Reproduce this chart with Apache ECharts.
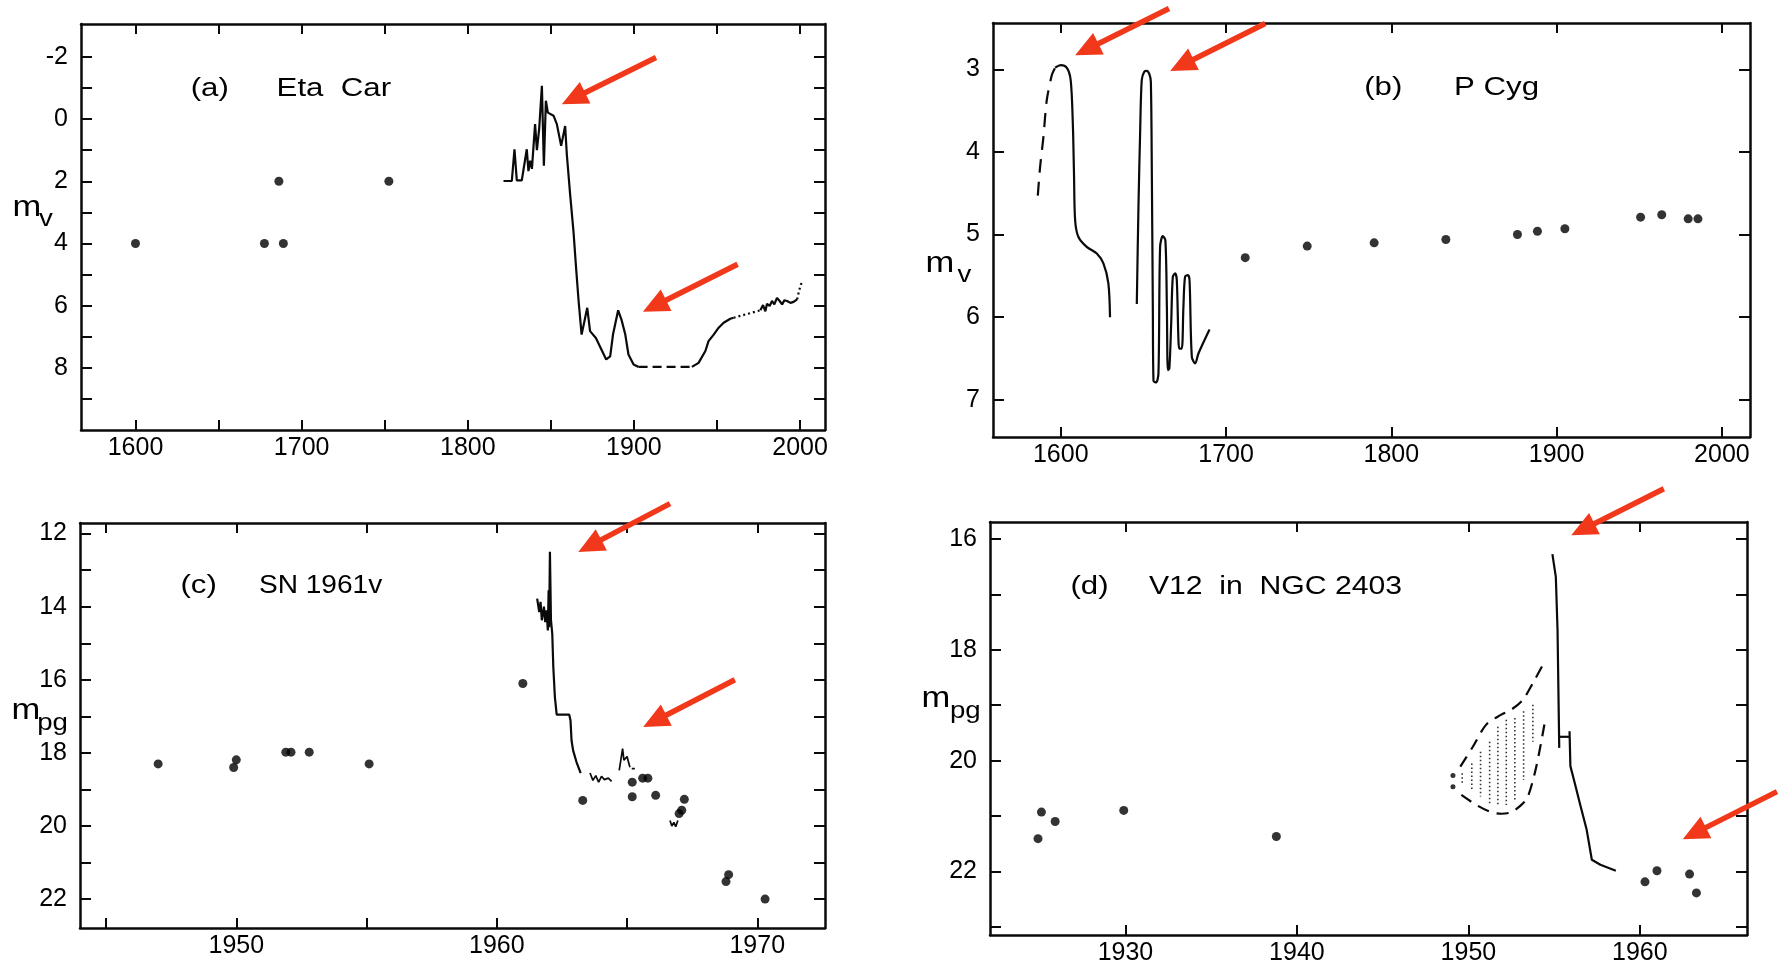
<!DOCTYPE html>
<html>
<head>
<meta charset="utf-8">
<script src="https://cdn.jsdelivr.net/npm/echarts@6/dist/echarts.min.js"></script>
<style>html,body{margin:0;padding:0;background:#fff;}#c{width:1789px;height:966px;}</style>
</head>
<body>
<div id="c"></div>
<script>
// ---------- Panel (a) Eta Car ----------
const A_dots = [[1600,4],[1677.6,4],[1686.3,2],[1689,4],[1752.5,2]];
const A_solid1 = [[1821.5,1.99],[1826.5,1.99],[1828.1,0.97],[1829.5,1.97],[1832.5,1.97],[1835.5,0.97],[1836.5,1.67],[1837.5,1.34],[1838.6,1.6],[1840.5,0.16],[1841.6,1.0],[1843.0,0.3],[1844.6,-1.07],[1845.8,1.5],[1847.0,-0.59],[1848.2,-0.21],[1851.6,-0.11],[1853.6,0.16],[1856.2,0.86],[1858.6,0.22],[1859.6,1.13],[1861.6,2.42],[1863.6,3.6],[1865.2,4.8],[1866.7,5.85],[1868.5,6.93],[1870.2,6.5],[1871.9,6.07],[1873.6,6.82],[1877.1,7.04],[1883.3,7.73],[1885.7,7.63],[1887.4,6.93],[1890.5,6.15],[1892.5,6.45],[1894.8,6.93],[1896.7,7.57],[1899.8,7.89],[1902.8,7.97]];
const A_dash = [[1902.8,7.97],[1934.9,7.97]];
const A_solid2 = [[1934.9,7.97],[1938.9,7.84],[1943,7.46],[1944.9,7.14],[1948,6.93],[1951,6.71],[1954,6.55],[1958,6.42],[1960,6.39]];
const A_dot1 = [[1960,6.39],[1968,6.27],[1976.1,6.15]];
const A_solid3 = [[1976.1,6.15],[1977.7,5.98],[1979.1,6.18],[1980.1,5.94],[1981.7,6.01],[1983.1,5.85],[1984.5,5.96],[1986.1,5.75],[1987.7,5.85],[1989.2,5.96],[1990.5,5.83],[1992.2,5.85],[1994.2,5.91],[1996.1,5.88],[1998.2,5.8]];
const A_dot2 = [[1998.2,5.8],[1999.5,5.5],[2001.2,5.21]];
const A_arrows = [[[1913.3,-1.98],[1856.6,-0.48]],[[1962.4,4.67],[1905.4,6.2]]];
const A_xTicks = [1600,1650,1700,1750,1800,1850,1900,1950,2000];
const A_xLabels = [1600,1700,1800,1900,2000];
const A_yTicks = [-2,-1,0,1,2,3,4,5,6,7,8,9];
const A_yLabels = [-2,0,2,4,6,8];

// ---------- Panel (b) P Cyg ----------
const B_dash = [[1586.1,4.53],[1587.5,4.18],[1589.5,3.82],[1591.5,3.38],[1594.6,3.07],[1596.6,2.98]];
const B_solid1 = [[1596.6,2.98],[1600,2.95],[1603.6,2.98],[1606,3.13],[1607.3,3.66],[1608,4.26],[1608.7,4.83],[1610.7,5.03],[1615.7,5.15],[1621.8,5.23],[1625.8,5.35],[1628.8,5.59],[1629.8,6.0]];
const B_solid2 = [[1646,5.84],[1647,4.67],[1648,3.78],[1649,3.13],[1650.5,3.03],[1652.1,3.02],[1653.6,3.06],[1654.5,3.15],[1655.1,4.26],[1655.7,5.88],[1656.1,6.77],[1657.7,6.79],[1659.1,6.68],[1660.1,5.15],[1661.7,5.02],[1663.3,5.07],[1664.2,5.88],[1664.8,6.64],[1665.7,6.62],[1666.8,6.08],[1667.8,5.51],[1669.2,5.47],[1670.2,5.55],[1671.2,6.28],[1671.8,6.38],[1673.2,6.38],[1674.2,5.88],[1675.2,5.51],[1676.9,5.49],[1677.9,5.55],[1679.3,6.48],[1681.3,6.56],[1683.3,6.44],[1690,6.15]];
const B_dots = [[1711.6,5.28],[1749.1,5.14],[1789.6,5.10],[1833,5.06],[1876.3,5.00],[1888.4,4.96],[1905,4.93],[1950.8,4.79],[1963.6,4.76],[1979.6,4.81],[1985.5,4.81]];
const B_arrows = [[[1665.5,2.265],[1608.7,2.83]],[[1723.7,2.447],[1666.2,3.02]]];
const B_xTicks = [1600,1700,1800,1900,2000];
const B_yTicks = [3,4,5,6,7];

// ---------- Panel (c) SN 1961v ----------
const C_dots = [[1947.0,18.3],[1949.9,18.4],[1950.0,18.19],[1951.9,17.98],[1952.1,17.98],[1952.8,17.98],[1955.1,18.3],[1961.0,16.1],[1963.3,19.3],[1965.2,18.8],[1965.2,19.2],[1965.6,18.69],[1965.8,18.69],[1966.1,19.16],[1967.0,19.66],[1967.1,19.57],[1967.2,19.27],[1968.8,21.52],[1968.9,21.33],[1970.3,22.0]];
const C_main = [[1961.55,13.78],[1961.63,14.15],[1961.68,13.87],[1961.73,14.37],[1961.81,14.0],[1961.86,14.42],[1961.91,14.1],[1961.96,14.65],[1961.99,13.55],[1962.01,14.56],[1962.04,12.5],[1962.08,14.37],[1962.13,14.74],[1962.17,15.65],[1962.23,16.47],[1962.3,16.95],[1962.78,16.95],[1962.83,17.11],[1962.87,17.66],[1962.93,17.93],[1963.06,18.25],[1963.22,18.55]];
const C_wiggle = [[1963.58,18.55],[1963.69,18.75],[1963.8,18.62],[1963.91,18.8],[1964.02,18.64],[1964.13,18.73],[1964.28,18.69],[1964.41,18.78]];
const C_hump = [[1964.7,18.48],[1964.83,17.88],[1964.88,18.2],[1965.0,18.1],[1965.11,18.39]];
const C_tick = [[1965.18,18.43],[1965.3,18.43]];
const C_w = [[1966.65,19.85],[1966.72,20.0],[1966.8,19.9],[1966.87,20.02],[1966.95,19.85]];
const C_arrows = [[[1966.65,11.18],[1963.13,12.5]],[[1969.14,16.0],[1965.62,17.29]]];
const C_xTicks = [1945,1950,1955,1960,1965,1970];
const C_xLabels = [1950,1960,1970];
const C_yTicks = [12,13,14,15,16,17,18,19,20,21,22];
const C_yLabels = [12,14,16,18,20,22];

// ---------- Panel (d) V12 in NGC 2403 ----------
const D_dots = [[1924.9,21.41],[1925.1,20.93],[1925.9,21.1],[1929.9,20.9],[1938.8,21.37],[1960.3,22.19],[1961.0,21.99],[1962.9,22.05],[1963.3,22.39]];
const D_small = [[1949.1,20.27],[1949.1,20.47]];
const D_seg1 = [[1954.9,16.27],[1955.1,16.68],[1955.2,17.64],[1955.3,19.77]];
const D_seg2 = [[1955.3,19.57],[1955.9,19.57]];
const D_seg3 = [[1955.9,19.47],[1955.95,20.1],[1956.2,20.4],[1956.5,20.77],[1956.9,21.25],[1957.2,21.79],[1957.7,21.88],[1958.6,21.99]];
const D_upper = [[1949.53,20.11],[1950.26,19.75],[1951.04,19.35],[1951.92,19.17],[1952.5,19.08],[1953.18,18.9],[1953.76,18.6],[1954.45,18.21]];
const D_lower = [[1949.59,20.62],[1950.46,20.8],[1951.24,20.92],[1951.92,20.96],[1952.5,20.93],[1953.09,20.8],[1953.47,20.65],[1953.96,20.11],[1954.45,19.32]];
const D_hatch = [[1949.64,20.23,20.44],[1950.2,20.05,20.56],[1950.71,19.84,20.65],[1951.24,19.66,20.77],[1951.72,19.39,20.8],[1952.21,19.26,20.8],[1952.71,19.23,20.71],[1953.22,19.11,20.35],[1953.76,18.99,19.66]];
const D_arrows = [[[1961.4,15.09],[1956.0,15.93]],[[1968.0,20.56],[1962.5,21.42]]];
const D_xTicks = [1930,1940,1950,1960];
const D_yTicks = [16,17,18,19,20,21,22,23];
const D_yLabels = [16,18,20,22];

// ---------- build ----------
const FONT = "'Liberation Sans', Arial, Helvetica, sans-serif";
const INK = '#0a0a0a';
const RED = '#f2381b';

const panels = [
  {grid:{left:81, top:24, width:744, height:406}, x:[1567.2,2015], y:[-3.06,10], xt:A_xTicks, xl:A_xLabels, yt:A_yTicks, yl:A_yLabels, arrows:A_arrows},
  {grid:{left:993, top:23, width:757, height:414}, x:[1559,2017], y:[2.44,7.45], xt:B_xTicks, xl:B_xTicks, yt:B_yTicks, yl:B_yTicks, arrows:B_arrows},
  {grid:{left:80, top:523, width:745, height:405}, x:[1944,1972.6], y:[11.71,22.79], xt:C_xTicks, xl:C_xLabels, yt:C_yTicks, yl:C_yLabels, arrows:C_arrows},
  {grid:{left:990, top:522, width:757, height:413}, x:[1922.1,1966.25], y:[15.69,23.15], xt:D_xTicks, xl:D_xTicks, yt:D_yTicks, yl:D_yLabels, arrows:D_arrows}
];

const grid = [], xAxis = [], yAxis = [], series = [];
const axisLine = {show:true, onZero:false, lineStyle:{color:INK, width:2.5}};
const labelStyle = {color:'#000', fontSize:25, fontFamily:FONT, formatter: v => String(v)};

panels.forEach((p, i) => {
  grid.push(Object.assign({containLabel:false}, p.grid));
  ['bottom','top'].forEach((pos, k) => {
    xAxis.push({type:'value', gridIndex:i, position:pos, min:p.x[0], max:p.x[1],
      axisLine, splitLine:{show:false},
      axisTick:{show:true, inside:true, length:10, lineStyle:{color:INK, width:2}, customValues:p.xt},
      axisLabel:k===0 ? Object.assign({show:true, margin:6, customValues:p.xl}, labelStyle) : {show:false}
    });
  });
  ['left','right'].forEach((pos, k) => {
    yAxis.push({type:'value', gridIndex:i, position:pos, inverse:true, min:p.y[0], max:p.y[1],
      axisLine, splitLine:{show:false},
      axisTick:{show:true, inside:true, length:11, lineStyle:{color:INK, width:2}, customValues:p.yt},
      axisLabel:k===0 ? Object.assign({show:true, margin:13, customValues:p.yl}, labelStyle) : {show:false}
    });
  });
});

function line(i, data, opts) {
  opts = opts || {};
  series.push({type:'line', xAxisIndex:2*i, yAxisIndex:2*i, data, symbol:'none', showSymbol:false,
    smooth:opts.smooth || false, silent:true, animation:false,
    lineStyle:{color:INK, width:opts.width || 2.2, type:opts.type || 'solid'}});
}
function dots(i, data, size) {
  series.push({type:'scatter', xAxisIndex:2*i, yAxisIndex:2*i, data, symbol:'circle', symbolSize:size,
    itemStyle:{color:'#000'}, silent:true, animation:false});
}

// (a)
dots(0, A_dots, 9);
line(0, A_solid1);
line(0, A_dash, {type:[9,5]});
line(0, A_solid2);
line(0, A_dot1, {type:[2,3]});
line(0, A_solid3);
line(0, A_dot2, {type:[2,3]});
// (b)
dots(1, B_dots, 9);
line(1, B_dash, {type:[14,9], smooth:0.3});
line(1, B_solid1, {smooth:0.3});
line(1, B_solid2, {smooth:0.3});
// (c)
dots(2, C_dots, 9);
line(2, C_main);
line(2, C_wiggle, {width:1.7});
line(2, C_hump, {width:1.7});
line(2, C_tick, {width:1.7});
line(2, C_w, {width:1.7});
// (d)
dots(3, D_dots, 9);
dots(3, D_small, 5);
line(3, D_seg1);
line(3, D_seg2);
line(3, D_seg3);
line(3, D_upper, {type:[12,8], smooth:0.3});
line(3, D_lower, {type:[12,8], smooth:0.3});
D_hatch.forEach(h => {
  series.push({type:'line', xAxisIndex:6, yAxisIndex:6, data:[[h[0],h[1]],[h[0],h[2]]], symbol:'none',
    silent:true, animation:false, lineStyle:{color:'#333', width:1.6, type:[1.5,2.5]}});
});

// text (panel titles and axis names)
function txt(x, y, text, size, sx) {
  return {type:'text', x, y, scaleX:sx || 1.2, silent:true,
    style:{text, fontSize:size, fontFamily:FONT, fill:'#000', align:'left', verticalAlign:'middle'}};
}
const texts = [
  txt(190.7, 88.7, '(a)', 26), txt(276.6, 88.7, 'Eta  Car', 26),
  txt(1364.2, 88, '(b)', 26), txt(1454.1, 88, 'P Cyg', 26),
  txt(180.4, 586, '(c)', 26), txt(258.9, 586, 'SN 1961v', 26, 1.08),
  txt(1070.4, 587, '(d)', 26), txt(1148.9, 587, 'V12  in  NGC 2403', 26, 1.16),
  txt(12.6, 207.7, 'm', 30, 1.15), txt(39, 219, 'v', 24, 1.15),
  txt(925.5, 263.7, 'm', 30, 1.15), txt(957.6, 275, 'v', 24, 1.15),
  txt(11.5, 710.4, 'm', 30, 1.15), txt(37.2, 723.7, 'pg', 24, 1.15),
  txt(921.5, 698.7, 'm', 30, 1.15), txt(950, 711.3, 'pg', 24, 1.15)
];

const chart = echarts.init(document.getElementById('c'), null, {renderer:'canvas'});
chart.setOption({backgroundColor:'#fff', animation:false, grid, xAxis, yAxis, series});

// red arrows: endpoints given in data coordinates, converted through each grid's scales
const HEAD_LEN = 26, HEAD_HALF = 12;
const arrowEls = [];
panels.forEach((p, i) => {
  p.arrows.forEach(a => {
    const t = chart.convertToPixel({gridIndex:i}, a[0]);
    const h = chart.convertToPixel({gridIndex:i}, a[1]);
    const dx = h[0]-t[0], dy = h[1]-t[1], len = Math.hypot(dx, dy);
    const ux = dx/len, uy = dy/len, nx = -uy, ny = ux;
    const bx = h[0]-ux*HEAD_LEN, by = h[1]-uy*HEAD_LEN;
    arrowEls.push({type:'line', silent:true, z:50,
      shape:{x1:t[0], y1:t[1], x2:bx+ux*3, y2:by+uy*3}, style:{stroke:RED, lineWidth:5.5}});
    arrowEls.push({type:'polygon', silent:true, z:50,
      shape:{points:[[h[0],h[1]],[bx+nx*HEAD_HALF, by+ny*HEAD_HALF],[bx-nx*HEAD_HALF, by-ny*HEAD_HALF]]},
      style:{fill:RED}});
  });
});
chart.setOption({graphic: texts.concat(arrowEls)});
</script>
</body>
</html>
